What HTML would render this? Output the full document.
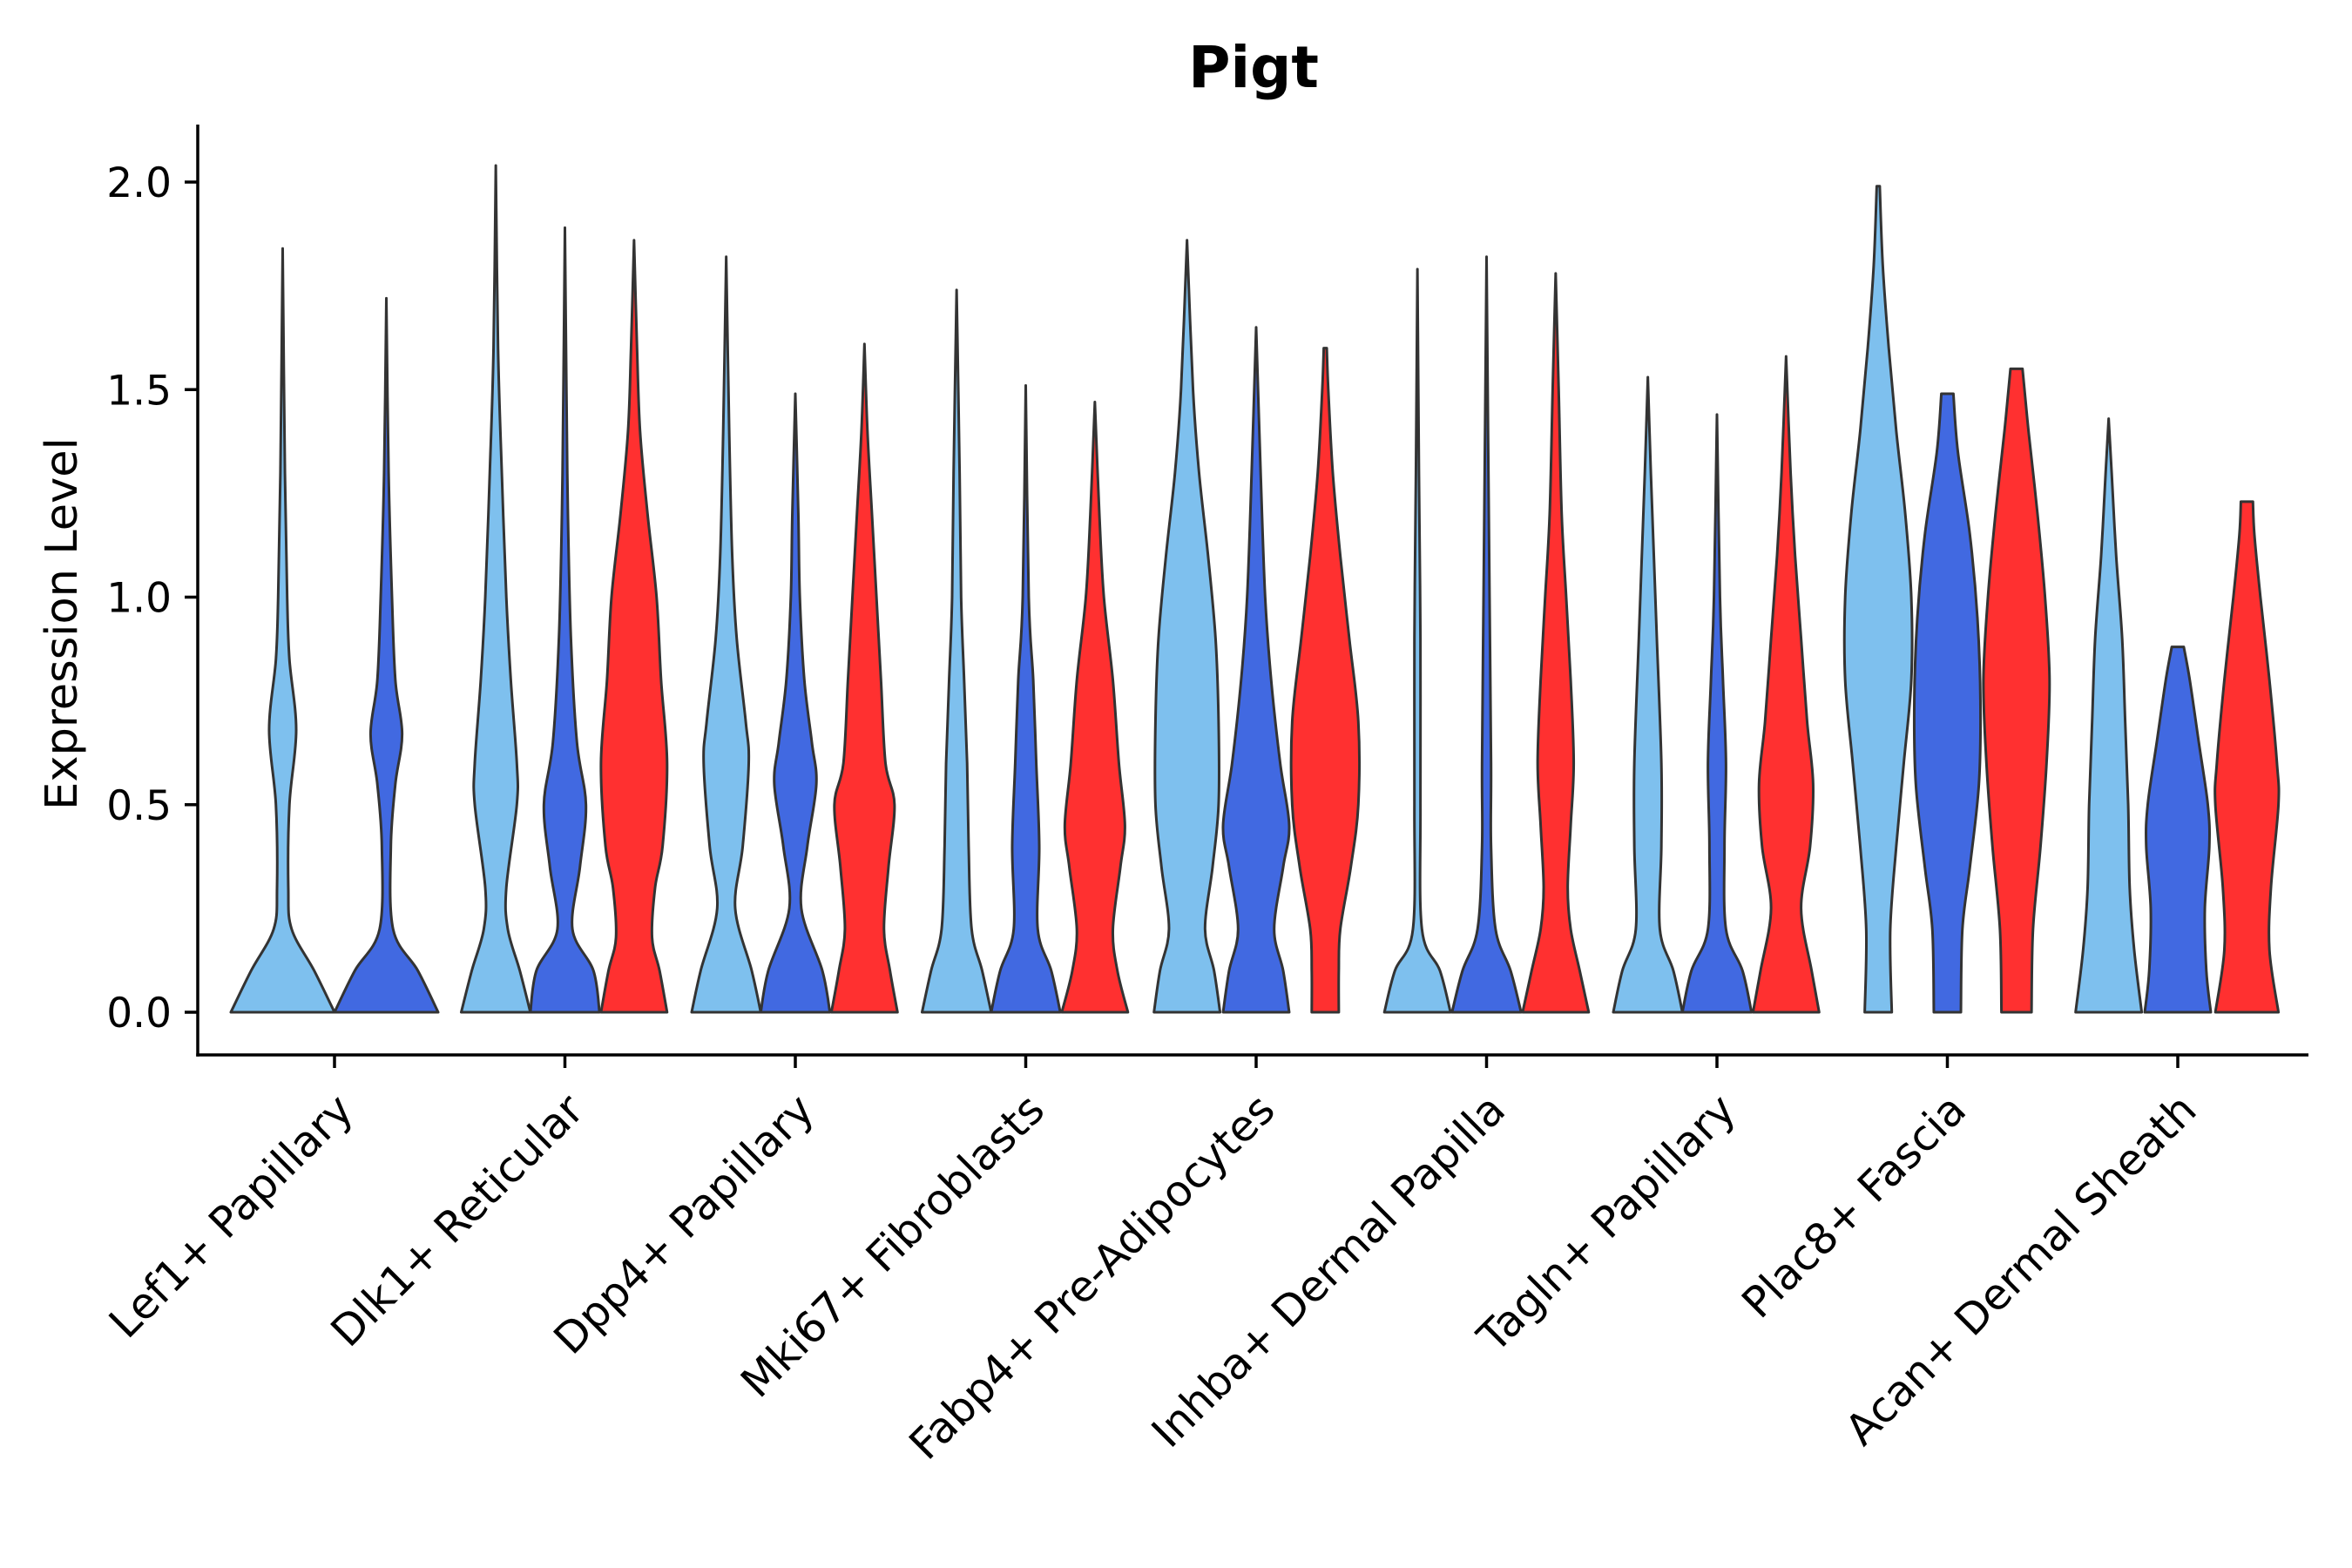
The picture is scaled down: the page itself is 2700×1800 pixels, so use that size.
<!DOCTYPE html>
<html><head><meta charset="utf-8"><style>
html,body{margin:0;padding:0;background:#fff;}
svg{display:block;font-family:"DejaVu Sans","Liberation Sans",sans-serif;}
</style></head><body>
<svg id="chart" width="2700" height="1800" viewBox="0 0 2700 1800" xmlns="http://www.w3.org/2000/svg">
<text x="1439" y="100" text-anchor="middle" font-size="66" font-weight="bold" fill="#000" font-family="DejaVu Sans, sans-serif">Pigt</text>
<text transform="translate(88,716) rotate(-90)" text-anchor="middle" font-size="51" fill="#000" font-family="DejaVu Sans, sans-serif">Expression Level</text>
<g id="marks"></g>
<g id="axes"></g>
</svg>
<script>
const categories = ["Lef1+ Papillary","Dlk1+ Reticular","Dpp4+ Papillary","Mki67+ Fibroblasts","Fabp4+ Pre-Adipocytes","Inhba+ Dermal Papilla","Tagln+ Papillary","Plac8+ Fascia","Acan+ Dermal Sheath"];
const yTicks = [0, 0.5, 1.0, 1.5, 2.0];
const yTickLabels = ["0.0","0.5","1.0","1.5","2.0"];
const seriesNames = ["light","blue","red"];
const seriesColors = ["#7EC0EE","#4169E1","#FF3030"];
// density profiles: [value, relative half-width 0..23]
const lef1Light = [[0,23],[0.1,14],[0.2,4],[0.3,2.5],[0.5,3],[0.68,6],[0.85,3],[1.0,2],[1.3,1],[1.84,0]];
const lef1Blue = [[0,23],[0.1,14],[0.2,3],[0.4,2],[0.55,4],[0.67,7],[0.8,4],[1.0,2.5],[1.3,1],[1.72,0]];
const dlk1Light = [[0,23],[0.1,16],[0.2,8],[0.3,7],[0.5,14],[0.6,14],[0.8,10],[1.0,7],[1.3,4],[1.6,1.5],[2.04,0]];
const dlk1Blue = [[0,23],[0.1,19],[0.2,5],[0.35,10],[0.5,14],[0.65,8],[0.9,4],[1.2,2],[1.5,1],[1.89,0]];
const dlk1Red = [[0,22],[0.1,17],[0.18,12],[0.3,14],[0.4,19],[0.6,22],[0.8,18],[1.0,15],[1.2,9],[1.4,4],[1.6,2],[1.86,0]];
const dpp4Light = [[0,23],[0.1,17],[0.25,6],[0.4,11],[0.6,15],[0.7,13],[0.9,7],[1.1,4],[1.4,2],[1.82,0]];
const dpp4Blue = [[0,23],[0.1,18],[0.25,4],[0.4,8],[0.55,14],[0.65,11],[0.8,6],[1.0,3],[1.2,2],[1.49,0]];
const dpp4Red = [[0,22],[0.1,17],[0.2,13],[0.35,16],[0.5,20],[0.6,14],[0.8,11],[1.0,8],[1.2,5],[1.4,2],[1.61,0]];
const mki67Light = [[0,23],[0.1,17],[0.2,10],[0.4,8],[0.6,7],[0.8,5],[1.0,3],[1.3,2],[1.74,0]];
const mki67Blue = [[0,23],[0.1,17],[0.2,8],[0.4,9],[0.6,7],[0.8,5],[1.0,2],[1.51,0]];
const mki67Red = [[0,22],[0.1,15],[0.2,12],[0.35,17],[0.45,20],[0.6,16],[0.8,12],[1.0,6],[1.2,3],[1.47,0]];
const fabp4Light = [[0,22],[0.1,18],[0.2,12],[0.35,17],[0.5,21],[0.7,21],[0.9,19],[1.1,14],[1.3,8],[1.5,4],[1.86,0]];
const fabp4Blue = [[0,22],[0.1,18],[0.2,12],[0.35,18],[0.45,22],[0.6,16],[0.8,10],[1.0,6],[1.3,3],[1.65,0]];
const fabp4Red = [[0,9],[0.1,9],[0.2,10],[0.35,17],[0.5,22],[0.7,22],[0.9,16],[1.1,10],[1.3,5],[1.5,2],[1.6,1]];
const inhbaLight = [[0,22],[0.1,15],[0.2,3],[0.5,2],[0.9,2],[1.3,1],[1.79,0]];
const inhbaBlue = [[0,23],[0.1,16],[0.2,6],[0.4,3],[0.6,3],[1.0,2],[1.4,1],[1.82,0]];
const inhbaRed = [[0,22],[0.1,16],[0.2,10],[0.3,8],[0.45,10],[0.6,12],[0.8,10],[1.0,7],[1.2,4],[1.5,2],[1.78,0]];
const taglnLight = [[0,23],[0.1,17],[0.2,8],[0.4,9],[0.6,9],[0.9,6],[1.1,4],[1.3,2],[1.53,0]];
const taglnBlue = [[0,23],[0.1,17],[0.2,6],[0.4,5],[0.6,6],[0.8,4],[1.0,2],[1.44,0]];
const taglnRed = [[0,22],[0.1,17],[0.25,10],[0.4,16],[0.55,18],[0.7,14],[0.9,10],[1.1,6],[1.3,3],[1.58,0]];
const plac8Light = [[0,9],[0.2,8],[0.4,12],[0.6,17],[0.8,22],[1.0,22],[1.2,18],[1.4,12],[1.6,7],[1.8,3],[1.99,1]];
const plac8Blue = [[0,9],[0.2,10],[0.35,15],[0.55,21],[0.75,22],[0.95,20],[1.15,15],[1.35,7],[1.49,4]];
const plac8Red = [[0,10],[0.2,11],[0.4,16],[0.6,20],[0.8,22],[1.0,19],[1.2,14],[1.4,8],[1.55,4]];
const acanLight = [[0,22],[0.15,17],[0.3,14],[0.5,13],[0.7,11],[0.9,9],[1.1,5],[1.3,2],[1.43,0]];
const acanBlue = [[0,22],[0.1,19],[0.25,18],[0.4,21],[0.5,20],[0.65,14],[0.8,8],[0.88,4]];
const acanRed = [[0,21],[0.15,15],[0.3,16],[0.5,21],[0.6,20],[0.8,15],[1.0,9],[1.15,5],[1.23,4]];
const violins = [
 [0,0,lef1Light],[0,1,lef1Blue],
 [1,0,dlk1Light],[1,1,dlk1Blue],[1,2,dlk1Red],
 [2,0,dpp4Light],[2,1,dpp4Blue],[2,2,dpp4Red],
 [3,0,mki67Light],[3,1,mki67Blue],[3,2,mki67Red],
 [4,0,fabp4Light],[4,1,fabp4Blue],[4,2,fabp4Red],
 [5,0,inhbaLight],[5,1,inhbaBlue],[5,2,inhbaRed],
 [6,0,taglnLight],[6,1,taglnBlue],[6,2,taglnRed],
 [7,0,plac8Light],[7,1,plac8Blue],[7,2,plac8Red],
 [8,0,acanLight],[8,1,acanBlue],[8,2,acanRed]
];

const NS="http://www.w3.org/2000/svg";
const X0=227, X1=2650, YB=1211, YT=143;
const BAND=264.5;
function yScale(v){ return 1162 - v*476.5; }
function xCat(i){ return 384 + i*BAND; }
function nSeries(ci){ return violins.filter(v=>v[0]===ci).length; }
function dodge(ci){ return BAND*0.9/nSeries(ci); }
function xViolin(ci,si){
  const n=nSeries(ci), w=dodge(ci);
  return xCat(ci) + (si-(n-1)/2)*w;
}
function hwScale(ci){ return (dodge(ci)/2)/23; }
function smoothSide(pts){
  let d="";
  for(let i=0;i<pts.length-1;i++){
    const p0=pts[Math.max(0,i-1)],p1=pts[i],p2=pts[i+1],p3=pts[Math.min(pts.length-1,i+2)];
    const c1=[p1[0]+(p2[0]-p0[0])/6, p1[1]+(p2[1]-p0[1])/6];
    const c2=[p2[0]-(p3[0]-p1[0])/6, p2[1]-(p3[1]-p1[1])/6];
    d+=` C${c1[0].toFixed(2)},${c1[1].toFixed(2)} ${c2[0].toFixed(2)},${c2[1].toFixed(2)} ${p2[0].toFixed(2)},${p2[1].toFixed(2)}`;
  }
  return d;
}
const marks=document.getElementById('marks');
violins.forEach(v=>{
  const cx=xViolin(v[0],v[1]);
  const k=hwScale(v[0]);
  const prof=v[2];
  const right=prof.map(p=>[cx+p[1]*k, yScale(p[0])]);
  const left=prof.slice().reverse().map(p=>[cx-p[1]*k, yScale(p[0])]);
  let d=`M${cx},${yScale(0)} L${right[0][0]},${right[0][1]}`+smoothSide(right);
  d+=` L${left[0][0]},${left[0][1]}`+smoothSide(left)+" Z";
  const path=document.createElementNS(NS,'path');
  path.setAttribute('d',d);
  path.setAttribute('fill',seriesColors[v[1]]);
  path.setAttribute('stroke','#333');
  path.setAttribute('stroke-width','3');
  path.setAttribute('stroke-linejoin','round');
  
  
  marks.appendChild(path);
});
const axes=document.getElementById('axes');
function line(x1,y1,x2,y2,name){
  const l=document.createElementNS(NS,'line');
  l.setAttribute('x1',x1);l.setAttribute('y1',y1);l.setAttribute('x2',x2);l.setAttribute('y2',y2);
  l.setAttribute('stroke','#000');l.setAttribute('stroke-width','3.5');
  
  
  axes.appendChild(l);
}
line(X0,YT,X0,YB+1.75,'y-axis-line');
line(X0-1.75,YB,X1,YB,'x-axis-line');
yTicks.forEach((t,i)=>{
  const y=yScale(t);
  line(X0-15,y,X0,y,'y-tick');
  const tx=document.createElementNS(NS,'text');
  tx.setAttribute('x',X0-30);tx.setAttribute('y',y+17);
  tx.setAttribute('text-anchor','end');tx.setAttribute('font-size','47');
  tx.setAttribute('font-family','DejaVu Sans, sans-serif');
  tx.textContent=yTickLabels[i];
  
  
  axes.appendChild(tx);
});
categories.forEach((c,i)=>{
  const x=xCat(i);
  line(x,YB,x,YB+15,'x-tick');
  const tx=document.createElementNS(NS,'text');
  tx.setAttribute('transform',`translate(${x+24},${YB+66}) rotate(-45)`);
  tx.setAttribute('text-anchor','end');tx.setAttribute('font-size','49');
  tx.setAttribute('font-family','DejaVu Sans, sans-serif');
  tx.textContent=c;
  
  
  axes.appendChild(tx);
});
</script>
</body></html>
